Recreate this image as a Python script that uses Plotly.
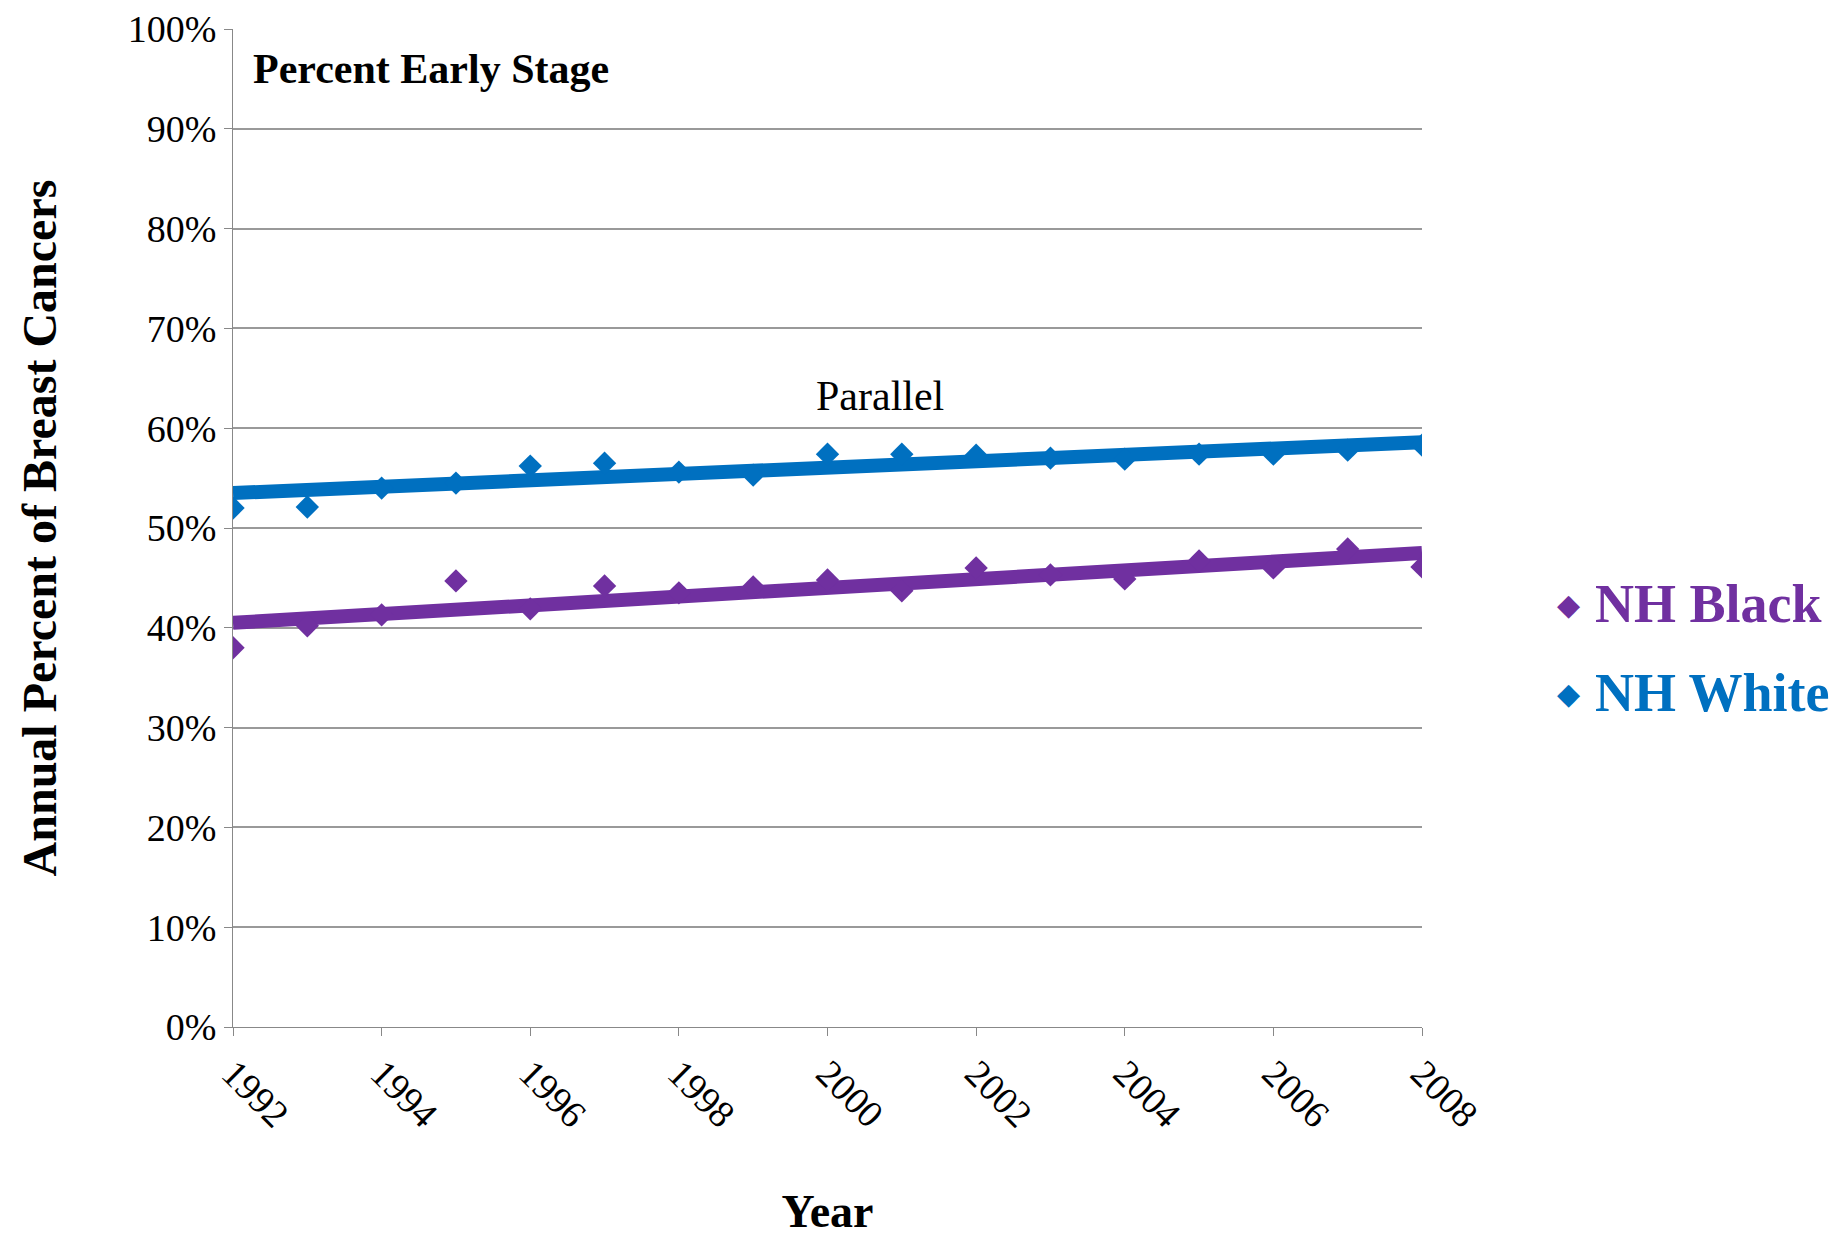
import plotly.graph_objects as go

years = list(range(1992, 2009))
nh_white = [52.0, 52.1, 54.0, 54.5, 56.2, 56.5, 55.6, 55.3, 57.4, 57.4,
            57.3, 57.0, 56.9, 57.4, 57.4, 57.8, 58.3]
nh_black = [38.0, 40.2, 41.3, 44.7, 41.9, 44.2, 43.5, 44.1, 44.8, 43.7,
            46.0, 45.3, 44.9, 46.7, 46.0, 47.9, 46.1]
trend_years = [1992, 2008]
white_trend = [53.5, 58.6]
black_trend = [40.5, 47.5]

WHITE = "#0070C0"
BLACK = "#7030A0"
SERIF = "Liberation Serif, Times New Roman, serif"

L, R, T, B = 225, 431, 21, 229
W, H = 1845, 1248
pw, ph = W - L - R, H - T - B


def px(x, y):
    # pixel position in the page -> paper coordinates
    return (x - L) / pw, (H - B - y) / ph


fig = go.Figure()
fig.add_trace(go.Scatter(x=trend_years, y=white_trend, mode="lines",
                         line=dict(color=WHITE, width=14), showlegend=False))
fig.add_trace(go.Scatter(x=trend_years, y=black_trend, mode="lines",
                         line=dict(color=BLACK, width=14), showlegend=False))
fig.add_trace(go.Scatter(x=years, y=nh_white, mode="markers",
                         marker=dict(symbol="diamond", size=18, color=WHITE),
                         showlegend=False))
fig.add_trace(go.Scatter(x=years, y=nh_black, mode="markers",
                         marker=dict(symbol="diamond", size=18, color=BLACK),
                         showlegend=False))

annotations = [
    dict(x=0.015, y=0.985, xref="paper", yref="paper", xanchor="left",
         yanchor="top", showarrow=False, text="<b>Percent Early Stage</b>",
         font=dict(size=42, family=SERIF)),
    dict(x=2000.7, y=60.7, xref="x", yref="y", yanchor="bottom",
         showarrow=False, text="Parallel", font=dict(size=42, family=SERIF)),
]
for name, color, ypix in [("NH Black", BLACK, 596), ("NH White", WHITE, 685)]:
    mx, my = px(1560, ypix)
    annotations.append(dict(x=mx, y=my, xref="paper", yref="paper",
                            showarrow=False, text="◆", xanchor="center",
                            yanchor="middle", font=dict(size=30, color=color)))
    tx, ty = px(1585, ypix)
    annotations.append(dict(x=tx, y=ty, xref="paper", yref="paper",
                            showarrow=False, text=f"<b>{name}</b>",
                            xanchor="left", yanchor="middle",
                            font=dict(size=54, family=SERIF, color=color)))

fig.update_layout(
    width=W, height=H,
    paper_bgcolor="white", plot_bgcolor="white",
    margin=dict(l=L, r=R, t=T, b=B, autoexpand=False),
    font=dict(family=SERIF, color="black"),
    xaxis=dict(range=[1992, 2008], tickmode="array", automargin=False,
               tickvals=list(range(1992, 2009, 2)), tickangle=45,
               ticks="outside", ticklen=8, tickcolor="#888",
               showline=True, linecolor="#888", showgrid=False,
               tickfont=dict(size=38, family=SERIF),
               title=dict(text="<b>Year</b>", font=dict(size=46, family=SERIF),
                          standoff=60)),
    yaxis=dict(range=[0, 100], tickvals=list(range(0, 101, 10)),
               ticktext=[f"{v}%" for v in range(0, 101, 10)], automargin=False,
               ticks="outside", ticklen=8, tickcolor="#888",
               showline=True, linecolor="#888", gridcolor="#999",
               gridwidth=1.5, zeroline=False,
               tickfont=dict(size=38, family=SERIF),
               title=dict(text="<b>Annual Percent of Breast Cancers</b>",
                          font=dict(size=48, family=SERIF), standoff=55)),
    annotations=annotations,
)

fig.write_html("out.html")
